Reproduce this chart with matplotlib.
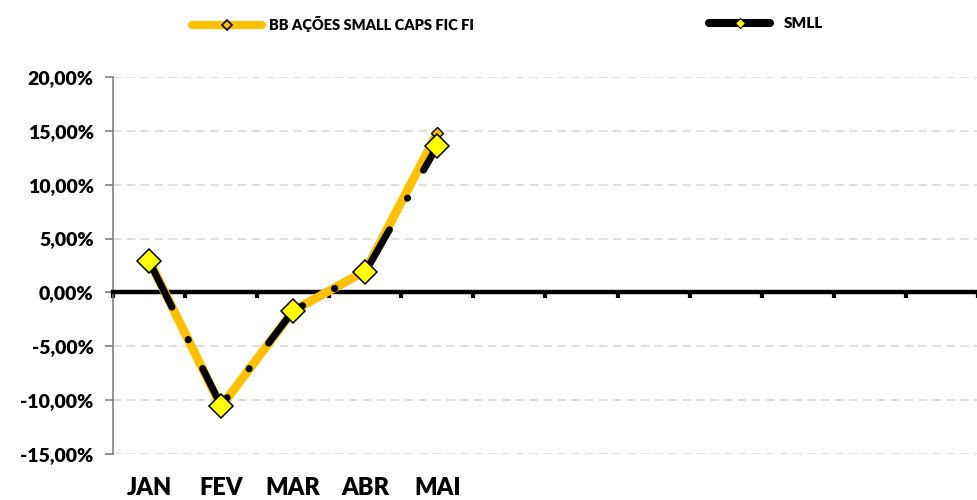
import matplotlib
matplotlib.use("Agg")
import matplotlib.pyplot as plt
import matplotlib.transforms as mtransforms
from matplotlib.lines import Line2D
from matplotlib.ticker import FixedLocator

plt.rcParams['font.family'] = ['Lato', 'DejaVu Sans']
plt.rcParams['font.weight'] = 'heavy'
plt.rcParams['lines.scale_dashes'] = False

# ---- data ----
categories = ['JAN', 'FEV', 'MAR', 'ABR', 'MAI', '', '', '', '', '', '', '']
bb_values = [3.0, -10.6, -1.7, 2.0, 14.8]
smll_values = [2.9, -10.5, -1.7, 1.9, 13.6]
bb_name = 'BB AÇÕES SMALL CAPS FIC FI'
smll_name = 'SMLL'
y_ticks = [-15, -10, -5, 0, 5, 10, 15, 20]
y_tick_labels = ['-15,00%', '-10,00%', '-5,00%', '0,00%', '5,00%', '10,00%', '15,00%', '20,00%']

BB_COLOR = '#FFC000'
MARK_YELLOW = '#FFFF00'
FW = 'heavy'

fig = plt.figure(figsize=(9.78, 5.0), dpi=100)
ax = fig.add_axes([113/978, 46/500, 865/978, 377/500])

n = len(categories)
ax.set_xlim(-0.5, n - 0.5)
ax.set_ylim(-15, 20)

# gridlines
for v in y_ticks:
    if v != 0:
        ax.axhline(v, color='#D9D9D9', lw=1.2, dashes=(6, 4), zorder=1)

xb = list(range(len(bb_values)))
xs = list(range(len(smll_values)))

# BB line
ax.plot(xb, bb_values, color=BB_COLOR, lw=6.3, solid_joinstyle='round',
        solid_capstyle='round', zorder=3)
ax.plot(xb, bb_values, ls='none', marker='D', ms=6.5, mfc=BB_COLOR,
        mec='black', mew=1.0, zorder=4)
# SMLL line (long dash - dot)
ax.plot(xs, smll_values, color='black', lw=5.0, dashes=(37, 26, 0.3, 23),
        dash_capstyle='round', zorder=5)
ax.plot(xs, smll_values, ls='none', marker='D', ms=12, mfc=MARK_YELLOW,
        mec='black', mew=1.1, zorder=6)

# y axis
ax.set_yticks(y_ticks)
ax.set_yticklabels(y_tick_labels, fontsize=14, fontweight=FW)
ax.tick_params(axis='y', direction='out', length=6, width=1.2, color='#808080', pad=8)
ax.spines['left'].set_color('#808080')
ax.spines['left'].set_linewidth(1.2)
ax.spines['right'].set_visible(False)
ax.spines['top'].set_visible(False)

# x axis at zero
ax.spines['bottom'].set_position(('data', 0))
ax.spines['bottom'].set_linewidth(3.2)
ax.spines['bottom'].set_color('black')
ax.spines['bottom'].set_zorder(2.5)
ax.set_xticks([])
ax.xaxis.set_minor_locator(FixedLocator([i - 0.5 for i in range(n + 1)]))
ax.tick_params(axis='x', which='minor', direction='out', length=4, width=3, color='black')

trans = mtransforms.blended_transform_factory(ax.transData, ax.transAxes)
for i, lab in enumerate(categories):
    if lab:
        ax.text(i, -0.09, lab, transform=trans, ha='center', va='center',
                fontsize=17, fontweight=FW, color='black')

# legends
h_bb = Line2D([], [], color=BB_COLOR, lw=5.8, solid_capstyle='round',
              marker='D', ms=5, mfc=BB_COLOR, mec='black', mew=1.2)
h_smll = Line2D([], [], color='black', lw=5.8, solid_capstyle='round',
                marker='D', ms=5, mfc=MARK_YELLOW, mec='black', mew=0.8)
leg1 = fig.legend([h_bb], [bb_name], loc='center left',
                  bbox_to_anchor=(192/978, 1 - 24/500), frameon=False,
                  prop={'size': 10.5, 'weight': FW}, handlelength=4.8,
                  handletextpad=0.45, borderpad=0, borderaxespad=0)
leg2 = fig.legend([h_smll], [smll_name], loc='center left',
                  bbox_to_anchor=(709/978, 1 - 24/500), frameon=False,
                  prop={'size': 11, 'weight': FW}, handlelength=4.0,
                  handletextpad=0.9, borderpad=0, borderaxespad=0)

fig.savefig('out.png', dpi=100)
